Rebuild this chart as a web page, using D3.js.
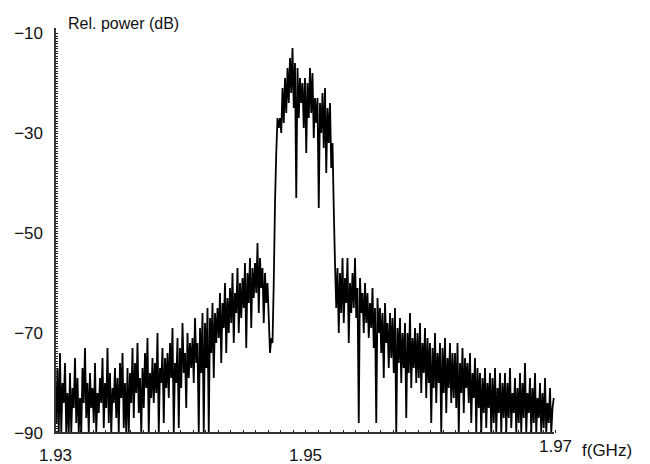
<!DOCTYPE html>
<html>
<head>
<meta charset="utf-8">
<script src="https://cdn.jsdelivr.net/npm/d3@7"></script>
<style>
  body { margin: 0; background: #fff; }
  text { font-family: "Liberation Sans", Arial, sans-serif; fill: #111; }
</style>
</head>
<body>
<div id="chart"></div>
<script>
// Spectrum, one row per 0.001 GHz, 10 samples per row (dB)
var startFreq = 1.93;
var freqStep = 0.0001;
var powerDb = [
  -79,-88,-77,-90,-74,-90,-80,-84,-76,-90,
  -82,-90,-78,-90,-81,-85,-75,-88,-79,-90,
  -83,-90,-77,-84,-73,-87,-80,-90,-78,-85,
  -81,-88,-76,-90,-82,-86,-79,-84,-75,-89,
  -80,-85,-73,-88,-78,-90,-81,-84,-77,-87,
  -79,-90,-76,-83,-74,-89,-80,-90,-77,-90,
  -78,-84,-73,-87,-76,-82,-72,-86,-79,-90,
  -77,-85,-74,-81,-71,-90,-78,-83,-75,-84,
  -76,-82,-70,-90,-77,-80,-73,-88,-75,-81,
  -74,-83,-72,-79,-69,-90,-76,-80,-71,-89,
  -73,-81,-68,-78,-74,-85,-70,-79,-72,-77,
  -71,-80,-67,-76,-72,-90,-69,-78,-66,-90,
  -68,-77,-65,-90,-67,-74,-64,-79,-66,-72,
  -65,-71,-62,-76,-64,-69,-60,-74,-63,-70,
  -61,-68,-58,-72,-62,-66,-57,-70,-60,-67,
  -59,-65,-56,-73,-58,-64,-55,-69,-57,-63,
  -56,-62,-52,-66,-55,-61,-57,-68,-58,-64,
  -60,-67,-74,-71,-72,-60,-44,-34,-27,-29,
  -27,-30,-21,-28,-19,-26,-17,-24,-15,-22,
  -13,-25,-16,-43,-17,-27,-19,-24,-20,-29,
  -19,-34,-20,-27,-17,-26,-18,-31,-23,-28,
  -23,-45,-24,-30,-22,-33,-21,-38,-25,-32,
  -24,-37,-32,-45,-56,-65,-57,-70,-58,-66,
  -55,-68,-59,-64,-55,-72,-60,-66,-58,-65,
  -55,-67,-61,-88,-59,-66,-62,-70,-60,-68,
  -62,-71,-64,-69,-61,-73,-65,-88,-63,-70,
  -65,-74,-66,-79,-64,-72,-68,-77,-66,-75,
  -67,-78,-65,-90,-69,-76,-67,-80,-70,-77,
  -68,-87,-70,-78,-66,-81,-71,-77,-69,-80,
  -70,-79,-68,-82,-72,-78,-69,-83,-71,-80,
  -72,-88,-73,-81,-70,-84,-74,-80,-72,-90,
  -73,-82,-71,-86,-75,-81,-72,-84,-74,-83,
  -74,-85,-72,-90,-76,-82,-73,-86,-75,-81,
  -76,-84,-74,-88,-78,-83,-75,-90,-77,-85,
  -78,-90,-79,-86,-77,-89,-80,-85,-78,-90,
  -79,-88,-77,-90,-81,-86,-78,-90,-80,-87,
  -78,-90,-80,-87,-77,-89,-82,-86,-79,-90,
  -81,-88,-78,-90,-80,-87,-76,-90,-82,-86,
  -79,-90,-81,-88,-78,-90,-83,-87,-80,-90,
  -82,-89,-79,-90,-84,-88,-81,-90,-85,-83
];
var xTickLabels = [1.93, 1.95, 1.97];
var yTickLabels = [-10, -30, -50, -70, -90];

var svgWidth = 650;
var svgHeight = 464;

var svg = d3.select("#chart")
  .append("svg")
  .attr("width", svgWidth)
  .attr("height", svgHeight);

svg.append("rect").attr("width", svgWidth).attr("height", svgHeight).attr("fill", "#fff");

var xScale = d3.scaleLinear().domain([1.93, 1.97]).range([55, 555]);
var yScale = d3.scaleLinear().domain([-90, -10]).range([433, 33]);

var data = powerDb.map(function (p, i) {
  return { f: startFreq + i * freqStep, p: p };
});

// minor ticks
var xMinor = d3.range(1.93, 1.9701, 0.001);
var yMinor = d3.range(-90, -9.9, 0.5);

svg.append("g")
  .attr("transform", "translate(0,433)")
  .call(d3.axisBottom(xScale).tickValues(xMinor).tickSize(-3).tickSizeOuter(0).tickFormat(""))
  .call(g => g.select(".domain").remove())
  .call(g => g.selectAll("line").attr("stroke", "#222").attr("shape-rendering", "crispEdges"));

svg.append("g")
  .attr("transform", "translate(55,0)")
  .call(d3.axisLeft(yScale).tickValues(yMinor).tickSize(-3).tickSizeOuter(0).tickFormat(""))
  .call(g => g.select(".domain").remove())
  .call(g => g.selectAll("line").attr("stroke", "#222").attr("shape-rendering", "crispEdges"));

// spectrum trace
var line = d3.line()
  .x(d => xScale(d.f))
  .y(d => yScale(d.p));

svg.append("path")
  .datum(data)
  .attr("fill", "none")
  .attr("stroke", "#000")
  .attr("stroke-width", 1.8)
  .attr("stroke-linejoin", "bevel")
  .attr("d", line);

// axis lines
svg.append("line")
  .attr("x1", 55).attr("x2", 554)
  .attr("y1", 433).attr("y2", 433)
  .attr("stroke", "#333").attr("stroke-width", 2);

svg.append("line")
  .attr("x1", 55).attr("x2", 55)
  .attr("y1", 28).attr("y2", 434)
  .attr("stroke", "#333").attr("stroke-width", 2);

// tick labels
var xAxis = svg.append("g")
  .attr("transform", "translate(0,433)")
  .call(d3.axisBottom(xScale).tickValues(xTickLabels).tickSize(0).tickPadding(16)
    .tickFormat(d3.format(".2f")));
xAxis.select(".domain").remove();
xAxis.selectAll("text")
  .attr("font-size", 17)
  .attr("font-family", "Liberation Sans, Arial, sans-serif")
  .attr("dy", d => d === 1.97 ? "0.2em" : "0.7em");

var yAxis = svg.append("g")
  .attr("transform", "translate(55,0)")
  .call(d3.axisLeft(yScale).tickValues(yTickLabels).tickSize(0).tickPadding(12)
    .tickFormat(d => "\u2212" + Math.abs(d)));
yAxis.select(".domain").remove();
yAxis.selectAll("text")
  .attr("font-size", 17)
  .attr("font-family", "Liberation Sans, Arial, sans-serif");

// axis titles
svg.append("text")
  .attr("x", 68)
  .attr("y", 29)
  .attr("font-size", 16)
  .text("Rel. power (dB)");

svg.append("text")
  .attr("x", 582)
  .attr("y", 456)
  .attr("font-size", 17)
  .text("f(GHz)");
</script>
</body>
</html>
